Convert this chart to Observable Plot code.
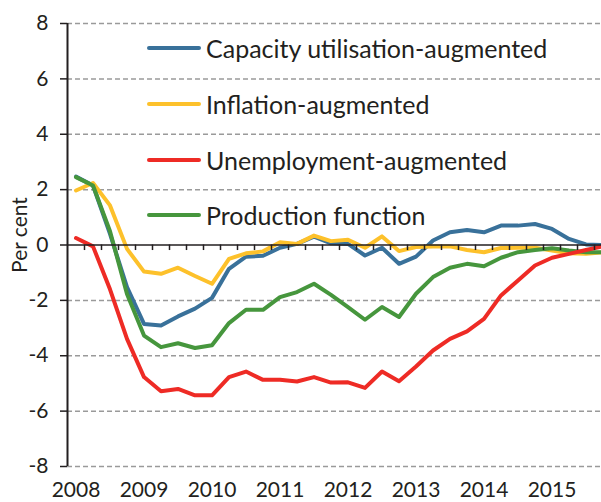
<!DOCTYPE html>
<html>
<head>
<meta charset="utf-8">
<script src="https://cdn.jsdelivr.net/npm/d3@7"></script>
<script src="https://cdn.jsdelivr.net/npm/@observablehq/plot@0.6"></script>
<style>
  html, body { margin: 0; padding: 0; background: #fff; }
  #wrap { position: relative; width: 601px; height: 502px; overflow: hidden; font-family: Lato, "Open Sans", sans-serif; color: #231f20; }
  #legend { position: absolute; left: 147px; top: 0; }
  .item { position: absolute; left: 0; height: 30px; white-space: nowrap; display: flex; align-items: center; }
  .swatch { width: 54px; height: 4px; border-radius: 2px; margin-right: 5px; }
  .label { font-size: 25px; line-height: 30px; }
  #ylabel { position: absolute; left: 19px; top: 235px; transform: translate(-50%, -50%) rotate(-90deg); font-size: 21px; line-height: 24px; white-space: nowrap; }
</style>
</head>
<body>
<div id="wrap"><div id="legend"></div><div id="ylabel">Per cent</div></div>
<script>
// Tick labels (years) and quarter index (Q1 2008 = 0)
const years = ["2008", "2009", "2010", "2011", "2012", "2013", "2014", "2015"];
const seriesNames = ["Capacity utilisation-augmented", "Inflation-augmented", "Unemployment-augmented", "Production function"];
const seriesColors = ["#39719a", "#fdc12b", "#ee2b25", "#46963d"];

// Output gap estimates, per cent, quarterly 2008Q1–2015Q4
const capacity = [2.47, 2.15, 0.4, -1.52, -2.85, -2.91, -2.58, -2.3, -1.91, -0.86, -0.42, -0.39, -0.1, 0.04, 0.3, 0.06,
                  0.04, -0.38, -0.1, -0.68, -0.42, 0.16, 0.46, 0.54, 0.46, 0.7, 0.7, 0.76, 0.58, 0.22, 0.02, 0.0];
const inflation = [1.97, 2.24, 1.43, -0.14, -0.96, -1.04, -0.82, -1.12, -1.40, -0.5, -0.3, -0.23, 0.1, 0.04, 0.34, 0.14,
                   0.19, -0.1, 0.31, -0.22, -0.07, -0.05, -0.05, -0.18, -0.26, -0.11, -0.1, -0.1, -0.2, -0.3, -0.32, -0.26];
const unemployment = [0.25, -0.05, -1.6, -3.39, -4.77, -5.28, -5.2, -5.43, -5.43, -4.77, -4.57, -4.87, -4.87, -4.93, -4.77, -4.97,
                      -4.96, -5.16, -4.57, -4.92, -4.39, -3.81, -3.39, -3.12, -2.67, -1.82, -1.28, -0.74, -0.46, -0.32, -0.18, -0.05];
const production = [2.45, 2.15, 0.5, -1.77, -3.27, -3.69, -3.55, -3.72, -3.62, -2.82, -2.34, -2.34, -1.88, -1.70, -1.40, -1.80,
                    -2.24, -2.7, -2.24, -2.6, -1.76, -1.16, -0.82, -0.68, -0.77, -0.46, -0.26, -0.18, -0.12, -0.2, -0.26, -0.26];
const yTicks = [-8, -6, -4, -2, 0, 2, 4, 6, 8];

const allSeries = [capacity, inflation, production, unemployment];
const drawColors = [seriesColors[0], seriesColors[1], seriesColors[3], seriesColors[2]];
const quarterIdx = d3.range(capacity.length);
const boundaries = d3.range(0, capacity.length - 1).map(i => i + 0.5);
const yearTicks = years.map((y, k) => k * 4);

const W = 601, H = 502;
const chart = Plot.plot({
  width: W,
  height: H,
  marginLeft: 67,
  marginRight: 0,
  marginTop: 23,
  marginBottom: 36,
  style: { fontFamily: "Lato, 'Open Sans', sans-serif", color: "#231f20", background: "white", overflow: "visible" },
  x: { type: "linear", domain: [-0.5, (W - 75.5) / 17], axis: null },
  y: { domain: [-8, 8], axis: null },
  marks: [
    Plot.ruleY(yTicks.filter(d => d !== 0), { stroke: "#9a9a9a", strokeWidth: 1.5, strokeDasharray: "5,3" }),
    ...allSeries.map((s, k) => Plot.lineY(s, { x: (d, i) => quarterIdx[i], y: d => d, stroke: drawColors[k], strokeWidth: 4, strokeLinejoin: "round", clip: true })),
    Plot.ruleY([0], { stroke: "#231f20", strokeWidth: 1.5 }),
    Plot.ruleX(boundaries, { y1: 0, y2: -0.2, stroke: "#231f20", strokeWidth: 1.5 }),
    Plot.ruleX([-0.5], { y1: -8, y2: 8, stroke: "#231f20", strokeWidth: 2 }),
    Plot.axisY(yTicks, { tickSize: 7, tickPadding: 12, fontSize: 21, tickFormat: d => String(d), stroke: "#231f20", strokeWidth: 1.5 }),
    Plot.axisX(yearTicks, { anchor: "bottom", tickSize: 0, tickPadding: 16, fontSize: 21, tickFormat: (d, i) => years[i] })
  ]
});
document.getElementById("wrap").prepend(chart);

const legend = document.getElementById("legend");
const rowCenters = [48, 104, 160, 215];
seriesNames.forEach((name, k) => {
  const item = document.createElement("div");
  item.className = "item";
  item.style.top = (rowCenters[k] - 15) + "px";
  const sw = document.createElement("div");
  sw.className = "swatch";
  sw.style.background = seriesColors[k];
  const lab = document.createElement("span");
  lab.className = "label";
  lab.textContent = name;
  item.append(sw, lab);
  legend.append(item);
});
</script>
</body>
</html>
